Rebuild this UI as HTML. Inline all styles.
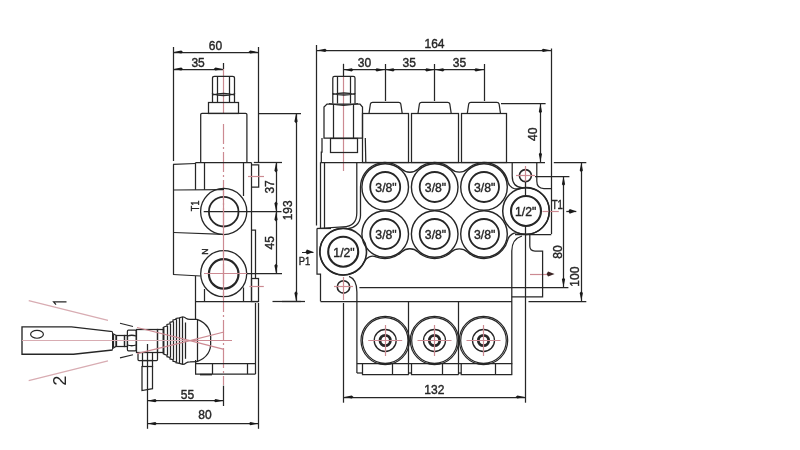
<!DOCTYPE html>
<html><head><meta charset="utf-8"><style>
html,body{margin:0;padding:0;background:#fff;}
svg{display:block;will-change:transform;}
text{font-family:"Liberation Sans", sans-serif;}
.d{stroke:#262626;stroke-width:1.25;fill:none;}
.r{stroke:#cc8a92;stroke-width:1.2;fill:none;}
.r2{stroke:#d89a9a;stroke-width:1;fill:none;stroke-dasharray:40 4 3 4;}
.r3{stroke:#d8acb2;stroke-width:1.2;fill:none;}
.rc{stroke:#cc8a92;stroke-width:1.2;fill:none;stroke-dasharray:20 3 2 3;}
</style></head><body>
<svg width="800" height="450" viewBox="0 0 800 450">
<line class="d" x1="173.5" y1="47" x2="173.5" y2="161"/>
<line class="d" x1="258.5" y1="47" x2="258.5" y2="162.5"/>
<line class="d" x1="173" y1="52.5" x2="258.6" y2="52.5"/>
<polygon points="173.5,52 181.29,50.40 183.00,52.00 181.29,53.60" fill="#1a1a1a"/>
<polygon points="258,52 250.21,53.60 248.50,52.00 250.21,50.40" fill="#1a1a1a"/>
<text id="t60" x="0" y="0" transform="translate(215.50 46.10) scale(0.94 1)" font-size="12.8" text-anchor="middle" dominant-baseline="central" fill="#262626" style="stroke:#262626;stroke-width:0.4">60</text>
<line class="d" x1="173" y1="69.5" x2="223.7" y2="69.5"/>
<polygon points="173.5,69 181.29,67.40 183.00,69.00 181.29,70.60" fill="#1a1a1a"/>
<polygon points="223.2,69 215.41,70.60 213.70,69.00 215.41,67.40" fill="#1a1a1a"/>
<line class="d" x1="223.5" y1="63" x2="223.5" y2="69"/>
<text id="t35s" x="0" y="0" transform="translate(198.10 63.10) scale(0.94 1)" font-size="12.8" text-anchor="middle" dominant-baseline="central" fill="#262626" style="stroke:#262626;stroke-width:0.4">35</text>
<line class="r" x1="223.5" y1="69" x2="223.5" y2="114"/>
<line class="rc" x1="223.5" y1="124" x2="223.5" y2="385"/>
<path class="d" d="M212.5,94 L212.5,78 Q212.5,76.3 214.5,76.3 L232.5,76.3 Q234.5,76.3 234.5,78 L234.5,94" fill="none"/>
<line class="d" x1="217.5" y1="76.5" x2="217.5" y2="102.6"/>
<line class="d" x1="229.5" y1="76.5" x2="229.5" y2="102.6"/>
<path class="d" d="M212.5,94 Q223.5,97 234.5,94" fill="none"/>
<path class="d" d="M212.5,93 L212.5,102.6 M234.5,93 L234.5,102.6" fill="none"/>
<path class="d" d="M212.5,95 Q223.5,92 234.5,95" fill="none"/>
<rect class="d" x="208.5" y="102.5" width="30.0" height="11.0" fill="none"/>
<path class="d" d="M200.7,162.5 L200.7,114.5 Q200.7,113.3 202,113.3 L245.6,113.3 Q246.9,113.3 246.9,114.5 L246.9,162.5" fill="none"/>
<line class="d" x1="258.6" y1="113.5" x2="301" y2="113.5"/>
<line class="d" x1="195.6" y1="162.5" x2="251.4" y2="162.5"/>
<path class="d" d="M173,164.3 L195.6,163.5" fill="none"/>
<line class="d" x1="173.5" y1="164.3" x2="173.5" y2="274.5"/>
<line class="d" x1="195.5" y1="162.5" x2="195.5" y2="189.8"/>
<line class="d" x1="204.5" y1="162.5" x2="204.5" y2="189.8"/>
<line class="d" x1="243.5" y1="162.5" x2="243.5" y2="196"/>
<line class="d" x1="251.5" y1="162.5" x2="251.5" y2="301.3"/>
<path class="d" d="M251.4,164.8 L258.7,164.8 L258.7,187 L251.4,187" fill="none"/>
<line class="r" x1="248" y1="176.5" x2="264" y2="176.5"/>
<line class="d" x1="173" y1="190" x2="224" y2="189.6"/>
<path class="d" d="M173.5,232.5 L223.7,234.4" fill="none"/>
<path class="d" d="M251.4,230 L255.5,230 L255.5,278.1" fill="none"/>
<rect class="d" x="251.5" y="278.5" width="7.0" height="23.0" fill="none"/>
<line class="r" x1="249.4" y1="286.5" x2="263.8" y2="286.5"/>
<circle class="d" cx="223.7" cy="211.5" r="23.1" style="stroke-width:1.3" fill="none"/>
<circle class="d" cx="223.7" cy="211.7" r="14.8" style="stroke-width:1.8" fill="none"/>
<line class="d" x1="203.7" y1="211.5" x2="281.5" y2="211.5"/>
<line class="r" x1="223.5" y1="190" x2="223.5" y2="236"/>
<circle class="d" cx="223.7" cy="273.7" r="23" style="stroke-width:1.3" fill="none"/>
<circle class="d" cx="223.7" cy="273.9" r="14.8" style="stroke-width:2.2" fill="none"/>
<line class="r" x1="204" y1="273.5" x2="247" y2="273.5"/>
<line class="d" x1="247" y1="273.5" x2="282" y2="273.5"/>
<line class="r" x1="223.5" y1="250" x2="223.5" y2="298"/>
<path class="d" d="M173,274.5 L200.7,276" fill="none"/>
<line class="d" x1="195.5" y1="276" x2="195.5" y2="319.4"/>
<line class="d" x1="204.5" y1="289" x2="204.5" y2="301.3"/>
<line class="d" x1="243.5" y1="287.5" x2="243.5" y2="301.3"/>
<line class="d" x1="195.6" y1="301.5" x2="258.7" y2="301.5"/>
<line class="d" x1="255.5" y1="303" x2="255.5" y2="374"/>
<line class="d" x1="258.5" y1="303" x2="258.5" y2="428.8"/>
<line class="d" x1="195.6" y1="363.5" x2="255.5" y2="363.5"/>
<path class="d" d="M195.6,360 L195.6,374 L255.5,374" fill="none"/>
<line class="d" x1="212.5" y1="363.5" x2="212.5" y2="374"/>
<line class="d" x1="247.5" y1="363.5" x2="247.5" y2="374"/>
<path class="d" d="M200,374.6 L212,374.6" style="stroke-width:1.6" fill="none"/>
<path class="d" d="M197,319.4 Q212,325 210.6,340.6 Q212,356 197,361.6" fill="none"/>
<line class="d" x1="197.5" y1="319.4" x2="197.5" y2="361.6"/>
<line class="d" x1="185.5" y1="322.5" x2="185.5" y2="358.8"/>
<path class="d" d="M163.5,327 L167,326 L167,324.5 L170,323.8 L170,322.3 L173,321.5 L173,320 L176,319.3 L176,318.5 L179.4,317.8 L182,317 Q184,316.6 186,318.3 Q187.5,319.4 190,319.4 L197,319.4" fill="none"/>
<path class="d" d="M163.5,354.2 L167,355.2 L167,356.7 L170,357.4 L170,358.9 L173,359.7 L173,361.2 L176,361.9 L176,362.7 L179.4,363.4 L182,364.2 Q184,364.6 186,362.9 Q187.5,361.8 190,361.8 L197,361.6" fill="none"/>
<line class="d" x1="163.5" y1="327" x2="163.5" y2="354.2" style="stroke-width:1.8"/>
<line class="d" x1="167.5" y1="326" x2="167.5" y2="355.2"/>
<line class="d" x1="170.5" y1="323.8" x2="170.5" y2="357.4"/>
<line class="d" x1="173.5" y1="321.5" x2="173.5" y2="359.7"/>
<line class="d" x1="176.5" y1="319.3" x2="176.5" y2="361.9"/>
<line class="d" x1="179.5" y1="317.8" x2="179.5" y2="363.4"/>
<line class="d" x1="182.5" y1="317" x2="182.5" y2="364.2"/>
<rect class="d" x="157.5" y="329.5" width="6.0" height="23.0" fill="none"/>
<rect class="d" x="136.5" y="329.5" width="21.0" height="23.0" fill="none"/>
<path class="d" d="M128.5,330.2 L135.2,330.2 Q136.2,330.2 136.2,331.5 L136.2,349.6 Q136.2,350.9 135.2,350.9 L128.5,350.9 Q127.4,350.9 127.4,349.6 L127.4,331.5 Q127.4,330.2 128.5,330.2 Z" fill="none"/>
<path class="d" d="M127.4,336 Q131.8,334.5 136.2,336 M127.4,345 Q131.8,346.5 136.2,345" fill="none"/>
<rect class="d" x="124.5" y="335.5" width="3.0" height="11.0" fill="none"/>
<rect class="d" x="116.5" y="335.5" width="8.0" height="11.0" fill="none"/>
<path class="d" d="M112.6,333.5 L116,335.3 L116,346.3 L112.6,348.5" fill="none"/>
<line class="d" x1="113.5" y1="334.2" x2="113.5" y2="347.5"/>
<path class="d" d="M112.6,331.7 L71.5,326.9 L22,326.9 L22,354.2 L73.5,354.2 L112.6,350" style="stroke-width:1.35" fill="none"/>
<line class="d" x1="112.5" y1="332" x2="112.5" y2="349.7" style="stroke-width:1.0"/>
<path class="d" d="M138,352.2 L138,359.6 Q138,360.6 139,360.6 L156.5,360.6 Q157.5,360.6 157.5,359.6 L157.5,352.2" fill="none"/>
<line class="d" x1="142.5" y1="352.2" x2="142.5" y2="360.6"/>
<line class="d" x1="152.5" y1="352.2" x2="152.5" y2="360.6"/>
<rect class="d" x="142.5" y="360.5" width="10.0" height="6.0" fill="none"/>
<path class="d" d="M142,366 L142,390.6 L152.5,388.7 L152.5,366" fill="none"/>
<line class="d" x1="147.5" y1="344" x2="147.5" y2="428.8"/>
<line class="r3" x1="22" y1="340.5" x2="190" y2="340.5"/>
<line class="r" x1="190" y1="340.5" x2="232" y2="340.5"/>
<line class="r3" x1="28.7" y1="300.6" x2="108" y2="320.3"/>
<line class="d" x1="120" y1="323.3" x2="133" y2="326.5" style="stroke-width:1.1"/>
<line class="r" x1="137" y1="327.5" x2="190" y2="340.6"/>
<line class="r3" x1="28.7" y1="380.6" x2="108" y2="360.9"/>
<line class="d" x1="120" y1="357.9" x2="133" y2="354.7" style="stroke-width:1.1"/>
<line class="r" x1="137" y1="353.7" x2="190" y2="340.6"/>
<line class="r" x1="190" y1="340.6" x2="224" y2="332"/>
<line class="r" x1="190" y1="340.6" x2="224" y2="349.4"/>
<ellipse cx="37" cy="334.35" rx="6.4" ry="3.9" style="fill:none;stroke:#262626;stroke-width:1.2"/>
<path class="d" d="M66.5,301.8 L53.6,301.8 L56,304.6" style="stroke-width:1.25" fill="none"/>
<text id="t2" x="0" y="0" transform="translate(60.10 380.60) rotate(-90) scale(1.05 1)" font-size="17.5" text-anchor="middle" dominant-baseline="central" fill="#262626" style="stroke:#262626;stroke-width:0">2</text>
<line class="d" x1="223.5" y1="385.6" x2="223.5" y2="406"/>
<line class="d" x1="147" y1="400.5" x2="223.7" y2="400.5"/>
<polygon points="147.5,400.7 155.29,399.10 157.00,400.70 155.29,402.30" fill="#1a1a1a"/>
<polygon points="223.2,400.7 215.41,402.30 213.70,400.70 215.41,399.10" fill="#1a1a1a"/>
<text id="t55" x="0" y="0" transform="translate(187.50 394.50) scale(0.94 1)" font-size="12.8" text-anchor="middle" dominant-baseline="central" fill="#262626" style="stroke:#262626;stroke-width:0.4">55</text>
<line class="d" x1="147" y1="423.5" x2="258.7" y2="423.5"/>
<polygon points="147.5,423.6 155.29,422.00 157.00,423.60 155.29,425.20" fill="#1a1a1a"/>
<polygon points="258.2,423.6 250.41,425.20 248.70,423.60 250.41,422.00" fill="#1a1a1a"/>
<text id="t80s" x="0" y="0" transform="translate(204.90 414.90) scale(0.94 1)" font-size="12.8" text-anchor="middle" dominant-baseline="central" fill="#262626" style="stroke:#262626;stroke-width:0.4">80</text>
<line class="d" x1="296.5" y1="113.3" x2="296.5" y2="301.3"/>
<polygon points="296,113.8 297.60,121.59 296.00,123.30 294.40,121.59" fill="#1a1a1a"/>
<polygon points="296,300.8 294.40,293.01 296.00,291.30 297.60,293.01" fill="#1a1a1a"/>
<line class="d" x1="276.5" y1="162.5" x2="276.5" y2="273.7"/>
<polygon points="276,163 277.60,170.79 276.00,172.50 274.40,170.79" fill="#1a1a1a"/>
<polygon points="276,211 274.40,203.21 276.00,201.50 277.60,203.21" fill="#1a1a1a"/>
<polygon points="276,212 277.60,219.79 276.00,221.50 274.40,219.79" fill="#1a1a1a"/>
<polygon points="276,273.2 274.40,265.41 276.00,263.70 277.60,265.41" fill="#1a1a1a"/>
<line class="d" x1="253.8" y1="162.5" x2="282" y2="162.5"/>
<text id="t193" x="0" y="0" transform="translate(288.30 210.30) rotate(-90) scale(0.94 1)" font-size="12.8" text-anchor="middle" dominant-baseline="central" fill="#262626" style="stroke:#262626;stroke-width:0.4">193</text>
<text id="t37" x="0" y="0" transform="translate(269.50 186.90) rotate(-90) scale(0.94 1)" font-size="12.8" text-anchor="middle" dominant-baseline="central" fill="#262626" style="stroke:#262626;stroke-width:0.4">37</text>
<text id="t45" x="0" y="0" transform="translate(269.70 242.80) rotate(-90) scale(0.94 1)" font-size="12.8" text-anchor="middle" dominant-baseline="central" fill="#262626" style="stroke:#262626;stroke-width:0.4">45</text>
<line class="d" x1="282" y1="301.5" x2="305" y2="301.5"/>
<text id="tT1s" x="0" y="0" transform="translate(195.00 205.85) rotate(-90) scale(0.88 1)" font-size="10.3" text-anchor="middle" dominant-baseline="central" fill="#262626" style="stroke:#262626;stroke-width:0.4">T1</text>
<text id="tN" x="0" y="0" transform="translate(204.60 251.70) rotate(-90) scale(1 1)" font-size="8.7" text-anchor="middle" dominant-baseline="central" fill="#262626" style="stroke:#262626;stroke-width:0.4">N</text>
<line class="d" x1="316.5" y1="45" x2="316.5" y2="225.5"/>
<line class="d" x1="551.5" y1="48.5" x2="551.5" y2="234"/>
<line class="d" x1="316.9" y1="50.5" x2="551.3" y2="50.5"/>
<polygon points="317.4,50.3 325.19,48.70 326.90,50.30 325.19,51.90" fill="#1a1a1a"/>
<polygon points="550.8,50.3 543.01,51.90 541.30,50.30 543.01,48.70" fill="#1a1a1a"/>
<text id="t164" x="0" y="0" transform="translate(434.50 43.50) scale(0.94 1)" font-size="12.8" text-anchor="middle" dominant-baseline="central" fill="#262626" style="stroke:#262626;stroke-width:0.4">164</text>
<line class="d" x1="343.5" y1="63.8" x2="343.5" y2="76.3"/>
<line class="d" x1="385.5" y1="64" x2="385.5" y2="101"/>
<line class="d" x1="434.5" y1="64" x2="434.5" y2="101"/>
<line class="d" x1="484.5" y1="64" x2="484.5" y2="101"/>
<line class="d" x1="343.5" y1="69.5" x2="484" y2="69.5"/>
<polygon points="344,69.8 351.79,68.20 353.50,69.80 351.79,71.40" fill="#1a1a1a"/>
<polygon points="384.5,69.8 376.71,71.40 375.00,69.80 376.71,68.20" fill="#1a1a1a"/>
<polygon points="385.5,69.8 393.29,68.20 395.00,69.80 393.29,71.40" fill="#1a1a1a"/>
<polygon points="434.25,69.8 426.46,71.40 424.75,69.80 426.46,68.20" fill="#1a1a1a"/>
<polygon points="435.25,69.8 443.04,68.20 444.75,69.80 443.04,71.40" fill="#1a1a1a"/>
<polygon points="483.5,69.8 475.71,71.40 474.00,69.80 475.71,68.20" fill="#1a1a1a"/>
<text id="t30" x="0" y="0" transform="translate(364.40 62.70) scale(0.94 1)" font-size="12.8" text-anchor="middle" dominant-baseline="central" fill="#262626" style="stroke:#262626;stroke-width:0.4">30</text>
<text id="t35a" x="0" y="0" transform="translate(409.30 62.70) scale(0.94 1)" font-size="12.8" text-anchor="middle" dominant-baseline="central" fill="#262626" style="stroke:#262626;stroke-width:0.4">35</text>
<text id="t35b" x="0" y="0" transform="translate(459.50 62.70) scale(0.94 1)" font-size="12.8" text-anchor="middle" dominant-baseline="central" fill="#262626" style="stroke:#262626;stroke-width:0.4">35</text>
<line class="r" x1="343.5" y1="76.3" x2="343.5" y2="171"/>
<path class="d" d="M332.8,93.5 L332.8,78 Q332.8,76.3 334.5,76.3 L353.3,76.3 Q355,76.3 355,78 L355,93.5" fill="none"/>
<path class="d" d="M332.8,93 L332.8,103.5 M355,93 L355,103.5" fill="none"/>
<path class="d" d="M332.8,93.5 Q343.9,96.5 355,93.5 M332.8,94.5 Q343.9,91.5 355,94.5" fill="none"/>
<line class="d" x1="337.5" y1="76.5" x2="337.5" y2="103.5"/>
<line class="d" x1="350.5" y1="76.5" x2="350.5" y2="103.5"/>
<path class="d" d="M324,138 L324,107 L327,104 L360,104 L362.5,107 L362.5,138 Z" fill="none"/>
<path class="d" d="M329,103.5 Q343.5,107 358,103.5" fill="none"/>
<line class="d" x1="333.5" y1="104" x2="333.5" y2="138"/>
<line class="d" x1="353.5" y1="104" x2="353.5" y2="138"/>
<path class="d" d="M322,138 L322,152.2 L321.3,152.2 L321.3,162.3 M365.3,138 L365.8,162.3" fill="none"/>
<rect class="d" x="330.5" y="138.5" width="27.0" height="14.0" fill="none"/>
<rect class="d" x="362.5" y="113.5" width="46.0" height="49.0" fill="none"/>
<path class="d" d="M369.0,113.3 L370.40000000000003,104 Q370.8,102.3 372.6,102.3 L398.6,102.3 Q400.40000000000003,102.3 400.8,104 L402.20000000000005,113.3" fill="none"/>
<rect class="d" x="411.5" y="113.5" width="47.0" height="49.0" fill="none"/>
<path class="d" d="M418.0,113.3 L419.40000000000003,104 Q419.8,102.3 421.6,102.3 L447.6,102.3 Q449.40000000000003,102.3 449.8,104 L451.20000000000005,113.3" fill="none"/>
<rect class="d" x="461.5" y="113.5" width="45.0" height="49.0" fill="none"/>
<path class="d" d="M467.29999999999995,113.3 L468.7,104 Q469.09999999999997,102.3 470.9,102.3 L496.9,102.3 Q498.7,102.3 499.09999999999997,104 L500.5,113.3" fill="none"/>
<line class="d" x1="501" y1="103.5" x2="545.6" y2="103.5"/>
<line class="d" x1="540.5" y1="103.5" x2="540.5" y2="162.3"/>
<polygon points="540.4,104 542.00,111.79 540.40,113.50 538.80,111.79" fill="#1a1a1a"/>
<polygon points="540.4,161.8 538.80,154.01 540.40,152.30 542.00,154.01" fill="#1a1a1a"/>
<text id="t40" x="0" y="0" transform="translate(532.90 134.30) rotate(-90) scale(0.94 1)" font-size="12.8" text-anchor="middle" dominant-baseline="central" fill="#262626" style="stroke:#262626;stroke-width:0.4">40</text>
<line class="d" x1="320.6" y1="162.5" x2="545" y2="162.5"/>
<line class="d" x1="320.5" y1="162.3" x2="320.5" y2="228.5"/>
<line class="d" x1="324.5" y1="162.3" x2="324.5" y2="228.5"/>
<line class="d" x1="316.9" y1="228.5" x2="331" y2="228.5"/>
<path class="d" d="M317,228.5 L317,274 L320.5,274 L320.5,301.3" fill="none"/>
<line class="d" x1="320.5" y1="301.5" x2="512" y2="301.5"/>
<line class="d" x1="528.5" y1="301.5" x2="586.3" y2="301.5"/>
<line class="d" x1="515" y1="234.5" x2="551.3" y2="234.5"/>
<circle class="d" cx="525.4" cy="175.6" r="6" style="stroke-width:1.6" fill="none"/>
<line class="r" x1="516" y1="175.5" x2="535" y2="175.5"/>
<line class="r" x1="525.5" y1="166" x2="525.5" y2="186"/>
<line class="d" x1="535" y1="176.5" x2="569.4" y2="176.5"/>
<line class="d" x1="525.5" y1="181.6" x2="525.5" y2="188"/>
<circle class="d" cx="526" cy="211" r="23.3" style="stroke-width:1.5" fill="none"/>
<circle class="d" cx="526" cy="211" r="15" style="stroke-width:2.1" fill="none"/>
<text id="tT12" x="0" y="0" transform="translate(525.60 211.90) scale(0.94 1)" font-size="13" text-anchor="middle" dominant-baseline="central" fill="#262626" style="stroke:#262626;stroke-width:0.4">1/2&quot;</text>
<line class="r" x1="542.5" y1="211.5" x2="558.8" y2="211.5"/>
<line class="d" x1="525.5" y1="234" x2="525.5" y2="402.7"/>
<line class="d" x1="525.5" y1="188" x2="525.5" y2="196"/>
<line class="d" x1="525.5" y1="226" x2="525.5" y2="234"/>
<text id="tT1f" x="0" y="0" transform="translate(557.30 204.10) scale(0.8 1)" font-size="12" text-anchor="middle" dominant-baseline="central" fill="#262626" style="stroke:#262626;stroke-width:0.4">T1</text>
<line class="d" x1="566.3" y1="211.5" x2="576.3" y2="211.5"/>
<polygon points="576.3,211.3 569.74,213.70 568.30,211.30 569.74,208.90" fill="#1a1a1a"/>
<line class="d" x1="359.4" y1="287.5" x2="568.4" y2="287.5"/>
<line class="d" x1="563.5" y1="176" x2="563.5" y2="287.5"/>
<polygon points="563.5,176.5 565.10,184.29 563.50,186.00 561.90,184.29" fill="#1a1a1a"/>
<polygon points="563.5,287 561.90,279.21 563.50,277.50 565.10,279.21" fill="#1a1a1a"/>
<text id="t80f" x="0" y="0" transform="translate(557.50 252.00) rotate(-90) scale(0.94 1)" font-size="12.8" text-anchor="middle" dominant-baseline="central" fill="#262626" style="stroke:#262626;stroke-width:0.4">80</text>
<line class="d" x1="553.8" y1="162.5" x2="586.3" y2="162.5"/>
<line class="d" x1="581.5" y1="162.3" x2="581.5" y2="301.3"/>
<polygon points="581.3,162.8 582.90,170.59 581.30,172.30 579.70,170.59" fill="#1a1a1a"/>
<polygon points="581.3,300.8 579.70,293.01 581.30,291.30 582.90,293.01" fill="#1a1a1a"/>
<text id="t100" x="0" y="0" transform="translate(575.10 276.70) rotate(-90) scale(0.94 1)" font-size="12.8" text-anchor="middle" dominant-baseline="central" fill="#262626" style="stroke:#262626;stroke-width:0.4">100</text>
<line class="r" x1="530" y1="274.5" x2="547" y2="274.5"/>
<polygon points="554.6,274 548.04,276.40 546.60,274.00 548.04,271.60" fill="#3c2424"/>
<circle class="d" cx="385.2" cy="187" r="23.3" style="stroke-width:1.4" fill="none"/>
<circle class="d" cx="385.2" cy="187" r="15" style="stroke-width:1.8" fill="none"/>
<text id="t38_385_187" x="0" y="0" transform="translate(386.00 188.10) scale(0.94 1)" font-size="13" text-anchor="middle" dominant-baseline="central" fill="#262626" style="stroke:#262626;stroke-width:0.4">3/8&quot;</text>
<circle class="d" cx="385.2" cy="234" r="23.3" style="stroke-width:1.4" fill="none"/>
<circle class="d" cx="385.2" cy="234" r="15" style="stroke-width:1.8" fill="none"/>
<text id="t38_385_234" x="0" y="0" transform="translate(386.00 235.10) scale(0.94 1)" font-size="13" text-anchor="middle" dominant-baseline="central" fill="#262626" style="stroke:#262626;stroke-width:0.4">3/8&quot;</text>
<circle class="d" cx="434.7" cy="187" r="23.3" style="stroke-width:1.4" fill="none"/>
<circle class="d" cx="434.7" cy="187" r="15" style="stroke-width:1.8" fill="none"/>
<text id="t38_434_187" x="0" y="0" transform="translate(435.50 188.10) scale(0.94 1)" font-size="13" text-anchor="middle" dominant-baseline="central" fill="#262626" style="stroke:#262626;stroke-width:0.4">3/8&quot;</text>
<circle class="d" cx="434.7" cy="234" r="23.3" style="stroke-width:1.4" fill="none"/>
<circle class="d" cx="434.7" cy="234" r="15" style="stroke-width:1.8" fill="none"/>
<text id="t38_434_234" x="0" y="0" transform="translate(435.50 235.10) scale(0.94 1)" font-size="13" text-anchor="middle" dominant-baseline="central" fill="#262626" style="stroke:#262626;stroke-width:0.4">3/8&quot;</text>
<circle class="d" cx="484" cy="187" r="23.3" style="stroke-width:1.4" fill="none"/>
<circle class="d" cx="484" cy="187" r="15" style="stroke-width:1.8" fill="none"/>
<text id="t38_484_187" x="0" y="0" transform="translate(484.70 188.10) scale(0.94 1)" font-size="13" text-anchor="middle" dominant-baseline="central" fill="#262626" style="stroke:#262626;stroke-width:0.4">3/8&quot;</text>
<circle class="d" cx="484" cy="234" r="23.3" style="stroke-width:1.4" fill="none"/>
<circle class="d" cx="484" cy="234" r="15" style="stroke-width:1.8" fill="none"/>
<text id="t38_484_234" x="0" y="0" transform="translate(484.70 235.10) scale(0.94 1)" font-size="13" text-anchor="middle" dominant-baseline="central" fill="#262626" style="stroke:#262626;stroke-width:0.4">3/8&quot;</text>
<circle class="d" cx="343.2" cy="251.7" r="23.3" style="stroke-width:1.6" fill="none"/>
<circle class="d" cx="343.2" cy="251.7" r="15" style="stroke-width:2.1" fill="none"/>
<text id="tP12" x="0" y="0" transform="translate(344.00 252.50) scale(0.94 1)" font-size="13" text-anchor="middle" dominant-baseline="central" fill="#262626" style="stroke:#262626;stroke-width:0.4">1/2&quot;</text>
<line class="d" x1="302" y1="252.5" x2="313.5" y2="252.5" style="stroke-width:1.0"/>
<polygon points="313.5,252 306.94,254.40 305.50,252.00 306.94,249.60" fill="#1a1a1a"/>
<text id="tP1" x="0" y="0" transform="translate(304.50 261.20) scale(0.85 1)" font-size="11" text-anchor="middle" dominant-baseline="central" fill="#262626" style="stroke:#262626;stroke-width:0.4">P1</text>
<circle class="d" cx="343.5" cy="286.9" r="6.2" style="stroke-width:1.6" fill="none"/>
<line class="r" x1="334" y1="286.5" x2="353" y2="286.5"/>
<line class="r" x1="343.5" y1="277" x2="343.5" y2="300"/>
<line class="d" x1="343.5" y1="303" x2="343.5" y2="402.7"/>
<path class="d" d="M360.50,215.55 L360.5,187 A24.50,24.50 0 0 1 401.68,169.05 A12.00,12.00 0 0 0 418.02,169.05 A24.50,24.50 0 0 1 451.25,168.93 A12.00,12.00 0 0 0 467.45,168.93 A24.50,24.50 0 0 1 507.95,181.84 A9.00,9.00 0 0 0 519.32,188.57 A23.40,23.40 0 1 1 519.16,233.38 A9.00,9.00 0 0 0 507.79,239.84 A24.50,24.50 0 0 1 467.45,252.07 A12.00,12.00 0 0 0 451.25,252.07 A24.50,24.50 0 0 1 418.02,251.95 A12.00,12.00 0 0 0 401.68,251.95 A24.50,24.50 0 0 1 375.99,256.78 A9.00,9.00 0 0 0 364.49,261.41 A23.40,23.40 0 1 1 345.96,228.46 A13.00,13.00 0 0 0 360.50,215.55" style="stroke-width:1.3" fill="none"/>
<path class="d" d="M356.8,162.3 L356.8,213 Q356.8,226.5 343,226.8 L317,228.5" fill="none"/>
<path class="d" d="M512.2,162.3 L512.2,176 Q512.2,187.5 523,187.8" fill="none"/>
<path class="d" d="M536.8,162.3 L536.8,181 Q536.8,188.5 544,188.5 L551.3,188.5" fill="none"/>
<path class="d" d="M522,236 Q511.8,239 511.8,251 L511.8,374.6" fill="none"/>
<path class="d" d="M529.8,235 L529.8,246 Q529.8,251 535,251 L542.6,251 L542.6,296.9 L511.8,296.9" fill="none"/>
<path class="d" d="M349,276.3 Q356.9,279 356.9,292 L356.9,373" fill="none"/>
<line class="d" x1="272.5" y1="301.5" x2="301" y2="301.5"/>
<line class="d" x1="408.5" y1="301.3" x2="408.5" y2="374.6"/>
<line class="d" x1="458.5" y1="301.3" x2="458.5" y2="374.6"/>
<line class="d" x1="356.9" y1="363.5" x2="512.3" y2="363.5"/>
<path class="d" d="M356.9,373 L362.5,373" fill="none"/>
<path class="d" d="M362.5,363.5 L362.5,374.6 L408.8,374.6" fill="none"/>
<line class="d" x1="392.5" y1="363.5" x2="392.5" y2="374.6"/>
<path class="d" d="M408.8,373 L411.5,373" fill="none"/>
<path class="d" d="M411.5,363.5 L411.5,374.6 L458.6,374.6" fill="none"/>
<line class="d" x1="442.5" y1="363.5" x2="442.5" y2="374.6"/>
<path class="d" d="M458.6,373 L461.2,373" fill="none"/>
<path class="d" d="M461.2,363.5 L461.2,374.6 L512.3,374.6" fill="none"/>
<line class="d" x1="495.5" y1="363.5" x2="495.5" y2="374.6"/>
<circle class="d" cx="385.2" cy="340.5" r="24.2" style="stroke-width:1.2" fill="none"/>
<circle class="d" cx="385.2" cy="340.5" r="22.8" style="stroke-width:1.2" fill="none"/>
<circle class="d" cx="385.2" cy="340.5" r="11" style="stroke-width:1.3" fill="none"/>
<circle class="d" cx="385.2" cy="340.5" r="5.2" style="stroke-width:2.8" fill="none"/>
<line class="r" x1="368.2" y1="340.5" x2="402.2" y2="340.5"/>
<line class="r" x1="385.5" y1="325.0" x2="385.5" y2="356.0"/>
<circle class="d" cx="434.5" cy="340.5" r="24.2" style="stroke-width:1.2" fill="none"/>
<circle class="d" cx="434.5" cy="340.5" r="22.8" style="stroke-width:1.2" fill="none"/>
<circle class="d" cx="434.5" cy="340.5" r="11" style="stroke-width:1.3" fill="none"/>
<circle class="d" cx="434.5" cy="340.5" r="5.2" style="stroke-width:2.8" fill="none"/>
<line class="r" x1="417.5" y1="340.5" x2="451.5" y2="340.5"/>
<line class="r" x1="434.5" y1="325.0" x2="434.5" y2="356.0"/>
<circle class="d" cx="483.5" cy="340.5" r="24.2" style="stroke-width:1.2" fill="none"/>
<circle class="d" cx="483.5" cy="340.5" r="22.8" style="stroke-width:1.2" fill="none"/>
<circle class="d" cx="483.5" cy="340.5" r="11" style="stroke-width:1.3" fill="none"/>
<circle class="d" cx="483.5" cy="340.5" r="5.2" style="stroke-width:2.8" fill="none"/>
<line class="r" x1="466.5" y1="340.5" x2="500.5" y2="340.5"/>
<line class="r" x1="483.5" y1="325.0" x2="483.5" y2="356.0"/>
<line class="d" x1="343.5" y1="397.5" x2="525.6" y2="397.5"/>
<polygon points="344,397 351.79,395.40 353.50,397.00 351.79,398.60" fill="#1a1a1a"/>
<polygon points="525.1,397 517.31,398.60 515.60,397.00 517.31,395.40" fill="#1a1a1a"/>
<text id="t132" x="0" y="0" transform="translate(434.30 390.10) scale(0.94 1)" font-size="12.8" text-anchor="middle" dominant-baseline="central" fill="#262626" style="stroke:#262626;stroke-width:0.4">132</text>
</svg></body></html>
